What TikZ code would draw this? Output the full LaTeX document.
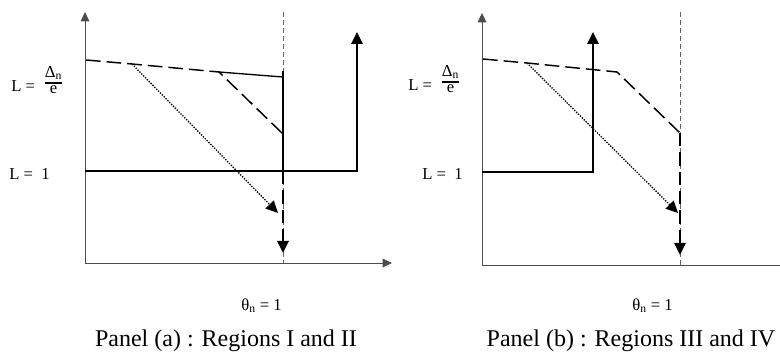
\documentclass[tikz,border=0pt]{standalone}
\usepackage{amsmath}
\usepackage{fontspec}
\setmainfont{Liberation Serif}
\usetikzlibrary{arrows.meta}
\tikzset{
  axisline/.style={draw=black!70,line width=0.6pt,-{Triangle[length=7pt,width=6.5pt]}},
  guide/.style={draw=black!60,line width=0.5pt,dash pattern=on 4pt off 2pt},
  trace/.style={line width=1.1pt,dash pattern=on 11pt off 4.5pt},
  bold/.style={line width=1.6pt},
  boldtrace/.style={line width=1.6pt,dash pattern=on 10pt off 4.5pt},
  dots/.style={line width=1pt,dash pattern=on 1pt off 1pt},
  tip/.style={-{Triangle[length=9pt,width=8.5pt]}},
  lab/.style={font=\fontsize{12.5}{15}\selectfont,inner sep=0pt},
  paneltitle/.style={font=\fontsize{18}{21}\selectfont,inner sep=0pt},
}
\newcommand{\ratio}{\raisebox{4pt}{$\genfrac{}{}{1.4pt}{}{\mbox{Δ\textsubscript{n}}}{\mbox{e}}$}}

\begin{document}
\begin{tikzpicture}[x=0.75pt,y=-0.75pt]
  \useasboundingbox (0,0) rectangle (780,352);
  % panel (a)
  \coordinate (oa) at (85,263);
  \coordinate (ka) at (132,64);
  \coordinate (ca) at (219,72);
  \coordinate (ea) at (283,134);
  \draw[axisline] (oa) -- (85,12);
  \draw[axisline] (oa) -- (392,263);
  \draw[guide] (283,12) -- (283,263);
  \draw[trace] (86,60) -- (ka) -- (ca) -- (ea);
  \draw[line width=1pt] (ca) -- (283,77);
  \draw[bold] (283,71) -- (283,171);
  \draw[boldtrace,tip] (283,171) -- (283,253);
  \draw[bold,tip] (85,171) -- (357,171) -- (357,32);
  \draw[dots,tip] (ka) -- (278,213);
  \node[lab,anchor=base west] (ra) at (11,92) {L =\ \ \ratio};
  \node[lab,anchor=base west] (ua) at (9,180) {L =\ \ 1};
  \node[lab,anchor=base west] (ta) at (241,310) {θ\textsubscript{n} = 1};
  \node[paneltitle,anchor=base] (pa) at (226,346) {Panel (a) : Regions I and II};
  % panel (b)
  \coordinate (ob) at (482,265);
  \coordinate (kb) at (527,63);
  \coordinate (cb) at (617,72);
  \coordinate (eb) at (680,133);
  \draw[axisline] (ob) -- (482,13);
  \draw[axisline] (ob) -- (792,265);
  \draw[guide] (680,12) -- (680,265);
  \draw[trace] (483,59) -- (kb) -- (cb) -- (eb);
  \draw[boldtrace,tip] (eb) -- (680,255);
  \draw[bold,tip] (482,172) -- (593,172) -- (593,32);
  \draw[dots,tip] (kb) -- (678,213);
  \node[lab,anchor=base west] (rb) at (408,91) {L =\ \ \ratio};
  \node[lab,anchor=base west] (ub) at (422,180) {L =\ \ 1};
  \node[lab,anchor=base west] (tb) at (632,310) {θ\textsubscript{n} = 1};
  \node[paneltitle,anchor=base] (pb) at (631,346) {Panel (b) : Regions III and IV};
\end{tikzpicture}
\end{document}
